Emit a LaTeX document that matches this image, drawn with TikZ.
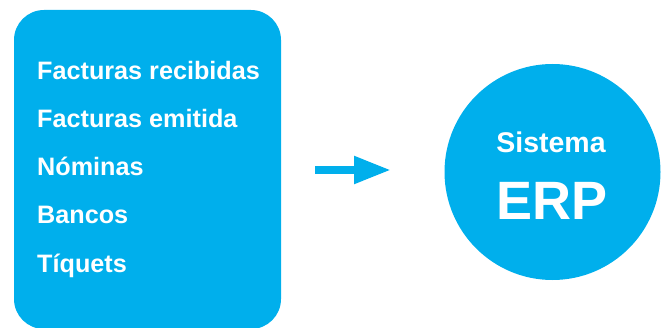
\documentclass[tikz,border=0pt]{standalone}
\usepackage{fontspec}
\setmainfont{Liberation Sans}
\usetikzlibrary{arrows.meta}
\definecolor{erpblue}{RGB}{0,175,236}
\tikzset{
  listitem/.style={anchor=base west, inner sep=0pt, text=white, font=\fontsize{25.2}{27}\selectfont\bfseries},
  panel/.style={fill=erpblue, draw=none, rounded corners=30pt},
  flow/.style={draw=erpblue, line width=8pt, -{Triangle[length=37pt,width=26pt]}}
}
\begin{document}
\begin{tikzpicture}[x=1pt,y=1pt]
\useasboundingbox (0,0) rectangle (664,327);
% panel
\path[panel] (14,-2) rectangle (281,317);
\node[listitem] (f1) at (37,247) {Facturas recibidas};
\node[listitem] (f2) at (37,199) {Facturas emitida};
\node[listitem] (f3) at (37,151) {Nóminas};
\node[listitem] (f4) at (37,103) {Bancos};
\node[listitem] (f5) at (37,55) {Tíquets};
% circle
\node[circle, fill=erpblue, minimum size=216pt, inner sep=0pt] (erp) at (552.5,155) {};
\node[anchor=base, inner sep=0pt, text=white, font=\fontsize{28.5}{30}\selectfont\bfseries] (sis) at (551,174) {Sistema};
\node[anchor=base, inner sep=0pt, text=white, font=\fontsize{54}{56}\selectfont\bfseries] (erpt) at (552,107) {ERP};
% arrow
\coordinate (a1) at (315,157);
\coordinate (a2) at (391,157);
\draw[flow] (a1) -- (a2);
\end{tikzpicture}
\end{document}
